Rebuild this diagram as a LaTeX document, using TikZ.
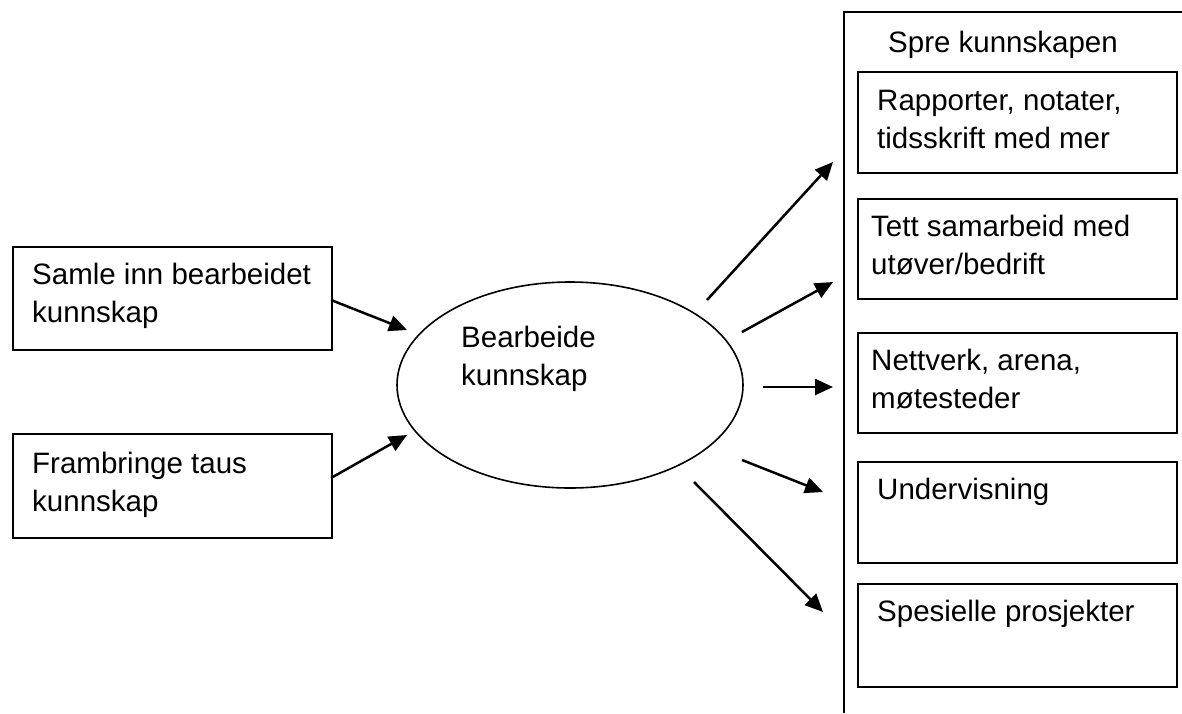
\documentclass[tikz,border=0pt]{standalone}
\usepackage{fontspec}
\setmainfont{Liberation Sans}
\usetikzlibrary{arrows.meta,shapes.geometric}
\begin{document}
\begin{tikzpicture}[x=1pt,y=-1pt,
  box/.style={draw=black,line width=1.6pt,rectangle,inner sep=0pt,anchor=north west},
  txt/.style={anchor=north west,inner sep=0pt,align=left,font=\fontsize{29.5}{38}\selectfont},
  arr/.style={line width=2.5pt,-{Triangle[length=18pt,width=16pt]}}]
\useasboundingbox (0,0) rectangle (1182,713);
% container (left and top edges)
\draw[line width=1.6pt] (1182,12) -- (844,12) -- (844,713);
\node[txt] (spre) at (888,31) {Spre kunnskapen};
% left boxes
\node[box,minimum width=319pt,minimum height=103pt] (boxA) at (12,246) {};
\node[txt] (tA) at (32,263) {Samle inn bearbeidet\\kunnskap};
\node[box,minimum width=319pt,minimum height=104pt] (boxB) at (12,433) {};
\node[txt] (tB) at (32,452) {Frambringe taus\\kunnskap};
% ellipse
\node[draw=black,line width=1.6pt,ellipse,inner sep=0pt,minimum width=346pt,minimum height=206pt] (ell) at (570,385) {};
\node[txt] (tE) at (461,326) {Bearbeide\\kunnskap};
% right boxes
\node[box,minimum width=319pt,minimum height=101pt] (r1) at (857,71) {};
\node[txt] (t1) at (877,90) {Rapporter, notater,\\tidsskrift med mer};
\node[box,minimum width=319pt,minimum height=100pt] (r2) at (857,198) {};
\node[txt] (t2) at (871,215) {Tett samarbeid med\\utøver/bedrift};
\node[box,minimum width=319pt,minimum height=100pt] (r3) at (857,332) {};
\node[txt] (t3) at (871,349) {Nettverk, arena,\\møtesteder};
\node[box,minimum width=319pt,minimum height=101pt] (r4) at (857,461) {};
\node[txt] (t4) at (877,478) {Undervisning};
\node[box,minimum width=319pt,minimum height=103pt] (r5) at (857,583) {};
\node[txt] (t5) at (877,600) {Spesielle prosjekter};
% connector end points
\coordinate (a1s) at (331,300); \coordinate (a1e) at (407,330);
\coordinate (a2s) at (331,478); \coordinate (a2e) at (407,435);
\coordinate (o1s) at (707,300); \coordinate (o1e) at (833,162);
\coordinate (o2s) at (742,332); \coordinate (o2e) at (833,282);
\coordinate (o3s) at (763,387); \coordinate (o3e) at (833,387);
\coordinate (o4s) at (742,460); \coordinate (o4e) at (823,492);
\coordinate (o5s) at (694,482); \coordinate (o5e) at (823,612);
\draw[arr] (a1s) -- (a1e);
\draw[arr] (a2s) -- (a2e);
\draw[arr] (o1s) -- (o1e);
\draw[arr] (o2s) -- (o2e);
\draw[arr] (o3s) -- (o3e);
\draw[arr] (o4s) -- (o4e);
\draw[arr] (o5s) -- (o5e);
\end{tikzpicture}
\end{document}
